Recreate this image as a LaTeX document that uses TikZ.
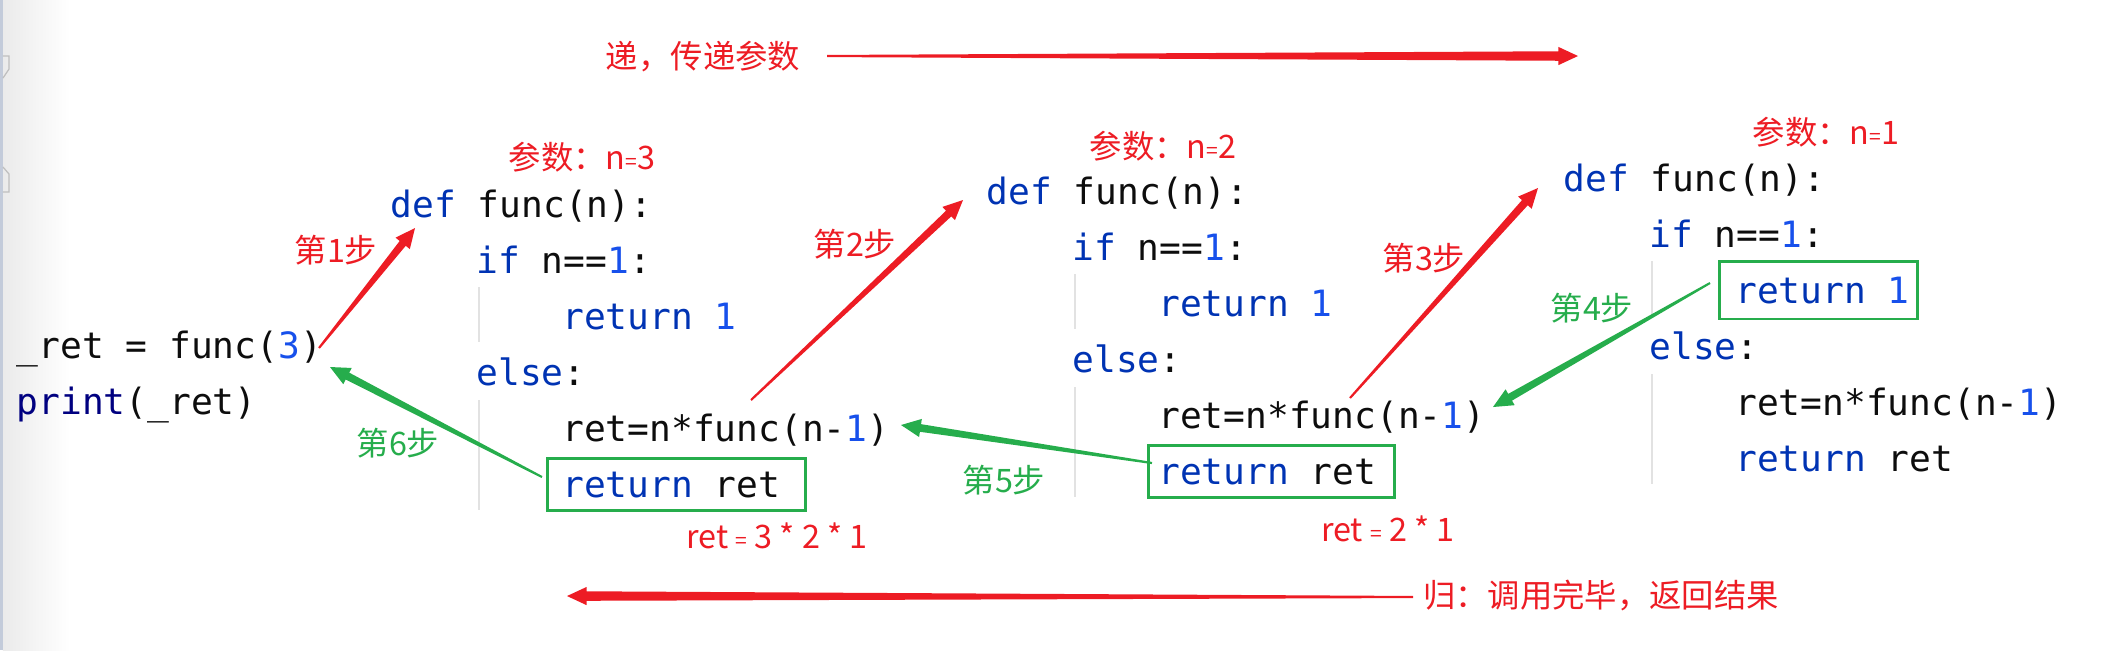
\documentclass[tikz,border=0pt]{standalone}
\usepackage{fontspec}
\usepackage{tikz}
\usetikzlibrary{calc,fit}
\newfontfamily\codefont{DejaVu Sans Mono}
\newfontfamily\cjkfont{Noto Sans CJK SC}
\definecolor{markred}{RGB}{237,28,36}
\definecolor{markgreen}{RGB}{38,173,76}
\definecolor{kwblue}{HTML}{0033B3}
\definecolor{numblue}{HTML}{1750EB}
\definecolor{navy}{HTML}{000080}
\definecolor{guidegray}{HTML}{E2E2E2}
\definecolor{gutter}{HTML}{C3CBDA}
\newcommand\kw[1]{\textcolor{kwblue}{#1}}
\newcommand\nm[1]{\textcolor{numblue}{#1}}
\newcommand\eq{{\fontsize{6}{6}\selectfont=}}
% tapered markup arrow: [shaft] colour, tail, tip
\newcommand\steparrow[4][1.1pt]{%
  \coordinate (head) at ($(#4)!5.6pt!(#3)$);
  \fill[#2] ($(#3)!0.3pt!90:(#4)$) -- ($(head)!#1!-90:(#3)$)
    -- ($(head)!2.6pt!-90:(#3)$) -- (#4) -- ($(head)!2.6pt!90:(#3)$)
    -- ($(head)!#1!90:(#3)$) -- ($(#3)!0.3pt!-90:(#4)$) -- cycle;}

\begin{document}
\begin{tikzpicture}[x=0.01cm, y=-0.01cm,
  code/.style={anchor=base west, inner sep=0pt,
    font=\codefont\fontsize{10.3}{12}\selectfont, text=black!95},
  note/.style={inner sep=0pt, font=\cjkfont\fontsize{9.2}{11}\selectfont},
  hit/.style={draw=markgreen, line width=0.8pt, inner xsep=3.6pt, inner ysep=3.6pt},
  guide/.style={draw=guidegray, line width=0.3pt},
  fold/.style={draw=black!25, line width=0.35pt}]
\useasboundingbox (0,0) rectangle (2124,650);

% editor gutter
\shade[left color=black!8, right color=white] (3,0) rectangle (70,650);
\fill[gutter] (0,0) rectangle (3,650);
\draw[fold] (3,56) -- (9,56) -- (9,69) -- (3,78);
\draw[fold] (3,167) -- (9,174) -- (9,192) -- (3,192);

% caller
\node[code] (call) at (16,358) {\_ret = func(\nm{3})};
\node[code] (show) at (16,414) {\textcolor{navy}{print}(\_ret)};

% the three calls of func
\foreach \i/\fx/\fy in {1/390/217, 2/986/204, 3/1563/191}{
  \node[code] (def\i) at (\fx,\fy) {\kw{def} func(n):};
  \node[code] (if\i) at (\fx+85.8,\fy+56) {\kw{if} n==\nm{1}:};
  \node[code] (one\i) at (\fx+171.6,\fy+112) {\kw{return} \nm{1}};
  \node[code] (else\i) at (\fx+85.8,\fy+168) {\kw{else}:};
  \node[code] (rec\i) at (\fx+171.6,\fy+224) {ret=n*func(n-\nm{1})};
  \node[code] (back\i) at (\fx+171.6,\fy+280) {\kw{return} ret};
  \draw[guide] (\fx+89,\fy+70) -- (\fx+89,\fy+125);
  \draw[guide] (\fx+89,\fy+183) -- (\fx+89,\fy+293);
}

% returned lines
\node[hit, fit=(back1), inner xsep=5.4pt, xshift=1.5pt] (box1) {};
\node[hit, fit=(back2), inner xsep=3.8pt, xshift=1.1pt] (box2) {};
\node[hit, fit=(one3), inner xsep=3.1pt, inner ysep=4.2pt, xshift=-1.2pt] (box3) {};

% labels
\node[note, text=markred] (pass) at (703,57) {递，传递参数};
\node[note, text=markred] (back) at (1601,595) {归：调用完毕，返回结果};
\node[note, text=markred] (arg1) at (582,157) {参数：n\eq3};
\node[note, text=markred] (arg2) at (1163,146) {参数：n\eq2};
\node[note, text=markred] (arg3) at (1826,132) {参数：n\eq1};
\node[note, text=markred] (res1) at (777,536) {ret \eq\ 3 * 2 * 1};
\node[note, text=markred] (res2) at (1388,529) {ret \eq\ 2 * 1};
\node[note, text=markred] (step1) at (336,250) {第1步};
\node[note, text=markred] (step2) at (855,244) {第2步};
\node[note, text=markred] (step3) at (1424,258) {第3步};
\node[note, text=markgreen] (step4) at (1592,308) {第4步};
\node[note, text=markgreen] (step5) at (1004,480) {第5步};
\node[note, text=markgreen] (step6) at (398,443) {第6步};

% arrows
\coordinate (s0) at (827,56);   \coordinate (e0) at (1578,56);
\coordinate (s7) at (1413,597); \coordinate (e7) at (567,596);
\coordinate (s1) at (319,348);  \coordinate (e1) at (415,228);
\coordinate (s2) at (751,400);  \coordinate (e2) at (963,200);
\coordinate (s3) at (1350,398); \coordinate (e3) at (1538,188);
\coordinate (s4) at (1710,283); \coordinate (e4) at (1493,407);
\coordinate (s5) at (1152,463); \coordinate (e5) at (901,425);
\coordinate (s6) at (542,477);  \coordinate (e6) at (330,367);
\steparrow[1.35pt]{markred}{s0}{e0}
\steparrow[1.35pt]{markred}{s7}{e7}
\foreach \c/\s/\e in {markred/s1/e1, markred/s2/e2, markred/s3/e3,
  markgreen/s4/e4, markgreen/s5/e5, markgreen/s6/e6}
  \steparrow{\c}{\s}{\e};
\end{tikzpicture}
\end{document}
